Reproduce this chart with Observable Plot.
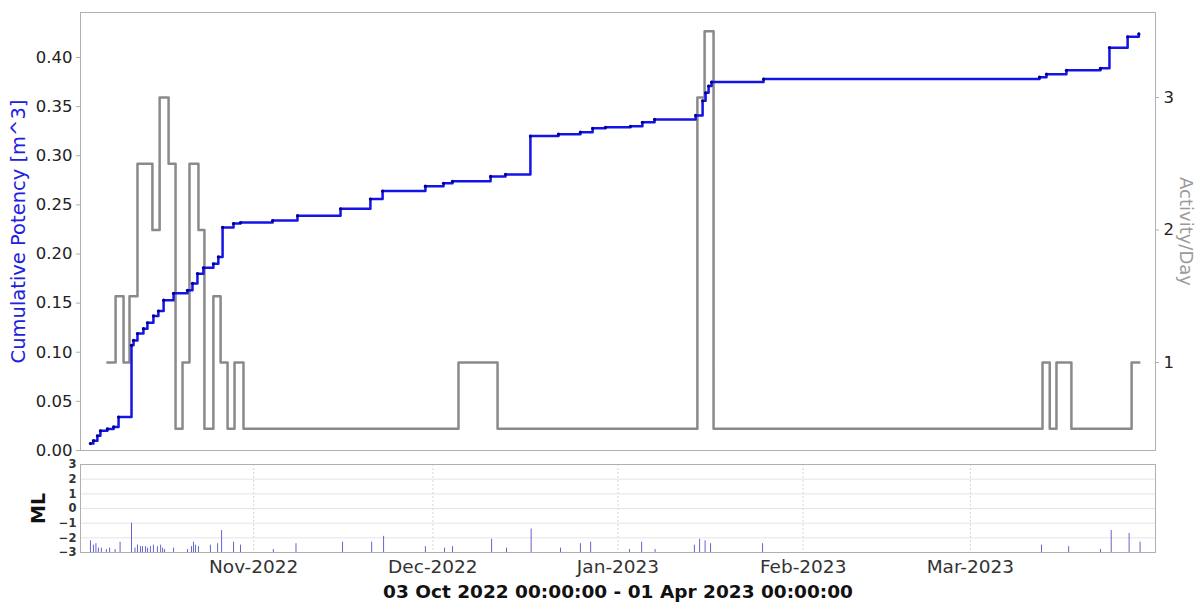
<!DOCTYPE html>
<html><head><meta charset="utf-8">
<script src="https://cdn.jsdelivr.net/npm/d3@7"></script>
<script src="https://cdn.jsdelivr.net/npm/@observablehq/plot@0.6"></script>
<style>
body{margin:0;background:#fff;font-family:"DejaVu Sans",sans-serif;}
#top{position:relative;width:1198px;height:458px;}
#top svg{position:absolute;left:0;top:0;}
#bottom svg{display:block;}
</style></head><body>
<div id="top"></div><div id="bottom"></div>
<script>
// ---- data ----
const xStart = "2022-10-03", xEnd = "2023-04-01";
const monthTicks = ["2022-11-01","2022-12-01","2023-01-01","2023-02-01","2023-03-01"];
const potencyTicks = [0,0.05,0.10,0.15,0.20,0.25,0.30,0.35,0.40];
const activityTicks = [1,2,3];
const mlTicks = [-3,-2,-1,0,1,2,3];

const potencyTimes = ["2022-10-04 16:00","2022-10-05 04:00","2022-10-05 20:00","2022-10-06 08:00","2022-10-07 12:00","2022-10-08 13:00","2022-10-09 09:00","2022-10-11 13:00","2022-10-11 21:00","2022-10-12 13:00","2022-10-13 13:00","2022-10-14 05:00","2022-10-15 05:00","2022-10-16 01:00","2022-10-16 22:00","2022-10-18 14:00","2022-10-20 22:00","2022-10-21 18:00","2022-10-22 14:00","2022-10-23 14:00","2022-10-25 06:00","2022-10-26 02:00","2022-10-26 19:00","2022-10-28 15:00","2022-10-29 19:00","2022-11-04 04:00","2022-11-08 08:00","2022-11-15 13:00","2022-11-20 13:00","2022-11-22 14:00","2022-11-29 18:00","2022-12-02 19:00","2022-12-04 07:00","2022-12-10 16:00","2022-12-13 04:00","2022-12-17 08:00","2022-12-22 01:00","2022-12-25 17:00","2022-12-27 18:00","2022-12-29 22:00","2023-01-03 02:00","2023-01-05 02:00","2023-01-07 03:00","2023-01-14 00:00","2023-01-15 04:00","2023-01-15 16:00","2023-01-16 04:00","2023-01-16 16:00","2023-01-25 09:00","2023-03-12 14:00","2023-03-13 18:00","2023-03-17 02:00","2023-03-22 19:00","2023-03-24 07:00","2023-03-27 08:00","2023-03-29 05:00"];
const potencyValues = [0.007,0.010,0.015,0.020,0.022,0.024,0.034,0.107,0.112,0.119,0.124,0.130,0.137,0.142,0.153,0.160,0.163,0.170,0.180,0.186,0.190,0.197,0.227,0.231,0.232,0.234,0.239,0.246,0.256,0.264,0.269,0.272,0.274,0.279,0.281,0.320,0.322,0.324,0.328,0.329,0.330,0.334,0.337,0.341,0.356,0.364,0.371,0.375,0.378,0.380,0.383,0.387,0.389,0.410,0.421,0.424];

const activityTimes = ["2022-10-07 12:00","2022-10-08 21:00","2022-10-10 05:00","2022-10-11 05:00","2022-10-12 13:00","2022-10-15 01:00","2022-10-16 06:00","2022-10-17 18:00","2022-10-18 22:00","2022-10-20 02:00","2022-10-21 06:00","2022-10-22 18:00","2022-10-23 18:00","2022-10-25 06:00","2022-10-26 11:00","2022-10-27 15:00","2022-10-28 19:00","2022-10-30 07:00","2022-12-05 07:00","2022-12-11 20:00","2023-01-14 07:00","2023-01-15 12:00","2023-01-17 00:00","2023-03-13 02:00","2023-03-14 07:00","2023-03-15 10:00","2023-03-17 22:00","2023-03-28 00:00","2023-03-29 07:00"];
const activityValues = [1.0,1.5,1.0,1.5,2.5,2.0,3.0,2.5,0.5,1.0,2.5,2.0,0.5,1.5,1.0,0.5,1.0,0.5,1.0,0.5,3.0,3.5,0.5,1.0,0.5,1.0,0.5,1.0,1.0];

const mlTimes = ["2022-10-04 16:00","2022-10-05 04:00","2022-10-05 14:00","2022-10-06 00:00","2022-10-06 12:00","2022-10-07 08:00","2022-10-07 21:00","2022-10-08 19:00","2022-10-09 15:00","2022-10-11 13:00","2022-10-12 03:00","2022-10-12 13:00","2022-10-13 01:00","2022-10-13 09:00","2022-10-13 21:00","2022-10-14 05:00","2022-10-14 17:00","2022-10-15 05:00","2022-10-15 21:00","2022-10-16 10:00","2022-10-16 18:00","2022-10-17 02:00","2022-10-18 14:00","2022-10-20 22:00","2022-10-21 14:00","2022-10-21 22:00","2022-10-22 06:00","2022-10-22 18:00","2022-10-24 18:00","2022-10-25 23:00","2022-10-26 15:00","2022-10-28 15:00","2022-10-29 19:00","2022-11-04 07:00","2022-11-08 02:00","2022-11-15 21:00","2022-11-20 18:00","2022-11-22 18:00","2022-11-29 18:00","2022-12-02 23:00","2022-12-04 07:00","2022-12-10 20:00","2022-12-13 08:00","2022-12-17 11:00","2022-12-22 09:00","2022-12-25 17:00","2022-12-27 10:00","2023-01-02 22:00","2023-01-04 23:00","2023-01-07 05:00","2023-01-13 19:00","2023-01-14 16:00","2023-01-15 14:00","2023-01-16 12:00","2023-01-25 05:00","2023-03-12 22:00","2023-03-17 11:00","2023-03-22 19:00","2023-03-24 14:00","2023-03-27 14:00","2023-03-29 10:00"];
const mlValues = [-2.2,-2.5,-2.4,-2.7,-2.7,-2.8,-2.7,-2.8,-2.3,-1.0,-2.7,-2.5,-2.6,-2.6,-2.6,-2.7,-2.6,-2.5,-2.6,-2.5,-2.7,-2.8,-2.7,-2.8,-2.6,-2.3,-2.5,-2.6,-2.5,-2.4,-1.5,-2.3,-2.5,-2.8,-2.4,-2.3,-2.3,-1.9,-2.6,-2.7,-2.6,-2.1,-2.7,-1.4,-2.7,-2.4,-2.3,-2.8,-2.3,-2.8,-2.5,-2.1,-2.2,-2.4,-2.4,-2.5,-2.6,-2.8,-1.5,-1.7,-2.3];

// ---- build ----
const parseTime = d3.utcParse("%Y-%m-%d %H:%M");
const parseDay = d3.utcParse("%Y-%m-%d");
const xDomain = [parseDay(xStart), parseDay(xEnd)];
const months = monthTicks.map(parseDay);
const potency = potencyTimes.map((t, i) => ({t: parseTime(t), v: potencyValues[i]}));
const activity = activityTimes.map((t, i) => ({t: parseTime(t), v: activityValues[i]}));
const ml = mlTimes.map((t, i) => ({t: parseTime(t), v: mlValues[i]}));

const W = 1198, H = 458;
const FONT = "DejaVu Sans";
const common = {width: W, height: H, marginLeft: 80, marginRight: 43, marginTop: 12, marginBottom: 8};

const base = Plot.plot({
  ...common,
  style: {fontFamily: FONT, fontSize: "16px", color: "#222", background: "white", overflow: "visible"},
  x: {type: "utc", domain: xDomain, axis: null},
  y: {domain: [0.3358, 3.6415], axis: null},
  marks: [
    Plot.frame({stroke: "#b0b0b0"}),
    Plot.line(activity, {x: "t", y: "v", curve: "step-after", stroke: "#8a8a8a", strokeWidth: 2.5}),
    Plot.axisY(activityTicks, {anchor: "right", tickSize: 3, tickPadding: 5, tickFormat: d3.format("d"), stroke: "#b0b0b0", fill: "#222", fontSize: 16.5, label: null}),
    Plot.text(["Activity/Day"], {text: d => d, frameAnchor: "right", textAnchor: "middle", dx: 30, rotate: 90, fill: "#9a9a9a", fontSize: 18})
  ]
});

const over = Plot.plot({
  ...common,
  style: {fontFamily: FONT, fontSize: "16px", color: "#222", background: "transparent", overflow: "visible"},
  x: {type: "utc", domain: xDomain, axis: null},
  y: {domain: [0, 0.4458], axis: null},
  marks: [
    Plot.axisY(potencyTicks, {anchor: "left", tickSize: 4, tickPadding: 4, tickFormat: d3.format(".2f"), stroke: "#b0b0b0", fill: "#222", fontSize: 16.5, label: null}),
    Plot.line(potency, {x: "t", y: "v", curve: "step-after", stroke: "#1414e6", strokeWidth: 2.5}),
    Plot.dot(potency, {x: "t", y: "v", r: 1.6, fill: "#00008b"}),
    Plot.text(["Cumulative Potency [m^3]"], {text: d => d, frameAnchor: "left", textAnchor: "middle", dx: -62, rotate: -90, fill: "#2020e0", fontSize: 19.5})
  ]
});

const bottom = Plot.plot({
  width: W, height: 149, marginLeft: 80, marginRight: 43, marginTop: 6, marginBottom: 55,
  style: {fontFamily: FONT, fontSize: "12px", color: "#222", background: "white", overflow: "visible"},
  x: {type: "utc", domain: xDomain, axis: null},
  y: {domain: [-3, 3], axis: null},
  marks: [
    Plot.gridY(mlTicks, {stroke: "#e4e4e4", strokeOpacity: 1}),
    Plot.gridX(months, {stroke: "#d6d6d6", strokeOpacity: 1, strokeDasharray: "2,2"}),
    Plot.ruleX(ml, {x: "t", y1: -3, y2: "v", stroke: "#6464d2", strokeWidth: 1}),
    Plot.frame({stroke: "#b0b0b0"}),
    Plot.axisY(mlTicks, {anchor: "left", tickSize: 0, tickPadding: 4, fontSize: 11.5, fontWeight: "bold", fill: "#333", label: null}),
    Plot.axisX(months, {anchor: "bottom", tickSize: 0, tickPadding: 7, tickFormat: d3.utcFormat("%b-%Y"), fontSize: 18.5, fill: "#333", label: null}),
    Plot.text(["ML"], {text: d => d, frameAnchor: "left", textAnchor: "middle", dx: -42, rotate: -90, fontSize: 19, fontWeight: "bold", fill: "#111"}),
    Plot.text(["03 Oct 2022 00:00:00 - 01 Apr 2023 00:00:00"], {text: d => d, frameAnchor: "bottom", lineAnchor: "middle", dy: 40, fontSize: 18.5, fontWeight: "bold", fill: "#111"})
  ]
});

document.getElementById("top").append(base, over);
document.getElementById("bottom").append(bottom);
</script>
</body></html>
